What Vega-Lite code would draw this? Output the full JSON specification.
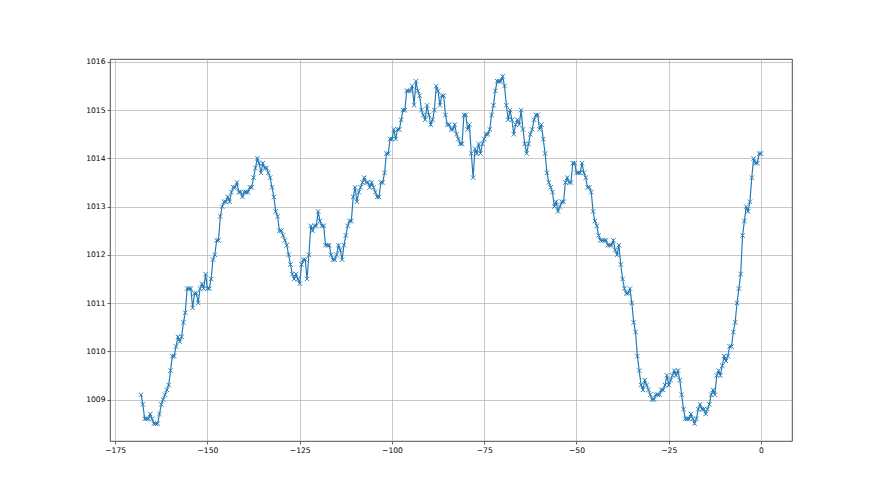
{
  "$schema": "https://vega.github.io/schema/vega-lite/v6.json",
  "width": 682,
  "height": 382,
  "autosize": {"type": "none"},
  "padding": {"left": 110, "top": 59, "right": 88, "bottom": 54},
  "background": "white",
  "config": {
    "view": {"stroke": "#222222", "strokeWidth": 0.8},
    "font": "DejaVu Sans",
    "axis": {
      "grid": true,
      "gridColor": "#b0b0b0",
      "gridWidth": 0.7,
      "domain": false,
      "tickColor": "#222222",
      "tickSize": 3,
      "tickWidth": 0.7,
      "labelFont": "DejaVu Sans",
      "labelFontSize": 7.6,
      "labelColor": "#000000",
      "labelPadding": 2,
      "title": null
    }
  },
  "data": {"values": [
    {"h":-168.0,"p":1009.1},{"h":-167.5,"p":1008.9},{"h":-167.0,"p":1008.6},{"h":-166.5,"p":1008.6},{"h":-166.0,"p":1008.6},{"h":-165.5,"p":1008.7},{"h":-165.0,"p":1008.6},{"h":-164.5,"p":1008.5},{"h":-164.0,"p":1008.5},{"h":-163.5,"p":1008.5},
    {"h":-163.0,"p":1008.7},{"h":-162.5,"p":1008.9},{"h":-162.0,"p":1009.0},{"h":-161.5,"p":1009.1},{"h":-161.0,"p":1009.2},{"h":-160.5,"p":1009.3},{"h":-160.0,"p":1009.6},{"h":-159.5,"p":1009.9},{"h":-159.0,"p":1009.9},{"h":-158.5,"p":1010.1},
    {"h":-158.0,"p":1010.3},{"h":-157.5,"p":1010.2},{"h":-157.0,"p":1010.3},{"h":-156.5,"p":1010.6},{"h":-156.0,"p":1010.8},{"h":-155.5,"p":1011.3},{"h":-155.0,"p":1011.3},{"h":-154.5,"p":1011.3},{"h":-154.0,"p":1010.9},{"h":-153.5,"p":1011.2},
    {"h":-153.0,"p":1011.2},{"h":-152.5,"p":1011.0},{"h":-152.0,"p":1011.3},{"h":-151.5,"p":1011.4},{"h":-151.0,"p":1011.3},{"h":-150.5,"p":1011.6},{"h":-150.0,"p":1011.3},{"h":-149.5,"p":1011.3},{"h":-149.0,"p":1011.5},{"h":-148.5,"p":1011.9},
    {"h":-148.0,"p":1012.0},{"h":-147.5,"p":1012.3},{"h":-147.0,"p":1012.3},{"h":-146.5,"p":1012.8},{"h":-146.0,"p":1013.0},{"h":-145.5,"p":1013.1},{"h":-145.0,"p":1013.1},{"h":-144.5,"p":1013.2},{"h":-144.0,"p":1013.1},{"h":-143.5,"p":1013.3},
    {"h":-143.0,"p":1013.4},{"h":-142.5,"p":1013.4},{"h":-142.0,"p":1013.5},{"h":-141.5,"p":1013.3},{"h":-141.0,"p":1013.3},{"h":-140.5,"p":1013.2},{"h":-140.0,"p":1013.3},{"h":-139.5,"p":1013.3},{"h":-139.0,"p":1013.3},{"h":-138.5,"p":1013.4},
    {"h":-138.0,"p":1013.4},{"h":-137.5,"p":1013.6},{"h":-137.0,"p":1013.8},{"h":-136.5,"p":1014.0},{"h":-136.0,"p":1013.9},{"h":-135.5,"p":1013.7},{"h":-135.0,"p":1013.9},{"h":-134.5,"p":1013.8},{"h":-134.0,"p":1013.8},{"h":-133.5,"p":1013.7},
    {"h":-133.0,"p":1013.6},{"h":-132.5,"p":1013.4},{"h":-132.0,"p":1013.2},{"h":-131.5,"p":1012.9},{"h":-131.0,"p":1012.8},{"h":-130.5,"p":1012.5},{"h":-130.0,"p":1012.5},{"h":-129.5,"p":1012.4},{"h":-129.0,"p":1012.3},{"h":-128.5,"p":1012.2},
    {"h":-128.0,"p":1012.0},{"h":-127.5,"p":1011.8},{"h":-127.0,"p":1011.6},{"h":-126.5,"p":1011.5},{"h":-126.0,"p":1011.6},{"h":-125.5,"p":1011.5},{"h":-125.0,"p":1011.4},{"h":-124.5,"p":1011.8},{"h":-124.0,"p":1011.9},{"h":-123.5,"p":1011.9},
    {"h":-123.0,"p":1011.5},{"h":-122.5,"p":1012.0},{"h":-122.0,"p":1012.6},{"h":-121.5,"p":1012.5},{"h":-121.0,"p":1012.6},{"h":-120.5,"p":1012.6},{"h":-120.0,"p":1012.9},{"h":-119.5,"p":1012.7},{"h":-119.0,"p":1012.6},{"h":-118.5,"p":1012.6},
    {"h":-118.0,"p":1012.2},{"h":-117.5,"p":1012.2},{"h":-117.0,"p":1012.2},{"h":-116.5,"p":1012.0},{"h":-116.0,"p":1011.9},{"h":-115.5,"p":1011.9},{"h":-115.0,"p":1012.0},{"h":-114.5,"p":1012.2},{"h":-114.0,"p":1012.1},{"h":-113.5,"p":1011.9},
    {"h":-113.0,"p":1012.2},{"h":-112.5,"p":1012.4},{"h":-112.0,"p":1012.6},{"h":-111.5,"p":1012.7},{"h":-111.0,"p":1012.7},{"h":-110.5,"p":1013.2},{"h":-110.0,"p":1013.4},{"h":-109.5,"p":1013.1},{"h":-109.0,"p":1013.3},{"h":-108.5,"p":1013.4},
    {"h":-108.0,"p":1013.5},{"h":-107.5,"p":1013.6},{"h":-107.0,"p":1013.5},{"h":-106.5,"p":1013.5},{"h":-106.0,"p":1013.4},{"h":-105.5,"p":1013.5},{"h":-105.0,"p":1013.4},{"h":-104.5,"p":1013.3},{"h":-104.0,"p":1013.2},{"h":-103.5,"p":1013.2},
    {"h":-103.0,"p":1013.5},{"h":-102.5,"p":1013.5},{"h":-102.0,"p":1013.7},{"h":-101.5,"p":1014.1},{"h":-101.0,"p":1014.1},{"h":-100.5,"p":1014.4},{"h":-100.0,"p":1014.4},{"h":-99.5,"p":1014.6},{"h":-99.0,"p":1014.4},{"h":-98.5,"p":1014.6},
    {"h":-98.0,"p":1014.6},{"h":-97.5,"p":1014.8},{"h":-97.0,"p":1015.0},{"h":-96.5,"p":1015.0},{"h":-96.0,"p":1015.4},{"h":-95.5,"p":1015.4},{"h":-95.0,"p":1015.4},{"h":-94.5,"p":1015.5},{"h":-94.0,"p":1015.1},{"h":-93.5,"p":1015.6},
    {"h":-93.0,"p":1015.4},{"h":-92.5,"p":1015.3},{"h":-92.0,"p":1015.0},{"h":-91.5,"p":1014.9},{"h":-91.0,"p":1014.8},{"h":-90.5,"p":1015.1},{"h":-90.0,"p":1014.9},{"h":-89.5,"p":1014.7},{"h":-89.0,"p":1014.8},{"h":-88.5,"p":1015.0},
    {"h":-88.0,"p":1015.5},{"h":-87.5,"p":1015.4},{"h":-87.0,"p":1015.1},{"h":-86.5,"p":1015.3},{"h":-86.0,"p":1015.3},{"h":-85.5,"p":1014.9},{"h":-85.0,"p":1014.7},{"h":-84.5,"p":1014.7},{"h":-84.0,"p":1014.6},{"h":-83.5,"p":1014.6},
    {"h":-83.0,"p":1014.7},{"h":-82.5,"p":1014.5},{"h":-82.0,"p":1014.4},{"h":-81.5,"p":1014.3},{"h":-81.0,"p":1014.3},{"h":-80.5,"p":1014.9},{"h":-80.0,"p":1014.9},{"h":-79.5,"p":1014.6},{"h":-79.0,"p":1014.7},{"h":-78.5,"p":1014.1},
    {"h":-78.0,"p":1013.6},{"h":-77.5,"p":1014.2},{"h":-77.0,"p":1014.1},{"h":-76.5,"p":1014.3},{"h":-76.0,"p":1014.1},{"h":-75.5,"p":1014.3},{"h":-75.0,"p":1014.4},{"h":-74.5,"p":1014.5},{"h":-74.0,"p":1014.5},{"h":-73.5,"p":1014.6},
    {"h":-73.0,"p":1014.9},{"h":-72.5,"p":1015.1},{"h":-72.0,"p":1015.4},{"h":-71.5,"p":1015.6},{"h":-71.0,"p":1015.6},{"h":-70.5,"p":1015.6},{"h":-70.0,"p":1015.7},{"h":-69.5,"p":1015.5},{"h":-69.0,"p":1015.1},{"h":-68.5,"p":1014.8},
    {"h":-68.0,"p":1015.0},{"h":-67.5,"p":1014.8},{"h":-67.0,"p":1014.5},{"h":-66.5,"p":1014.7},{"h":-66.0,"p":1014.8},{"h":-65.5,"p":1014.7},{"h":-65.0,"p":1015.0},{"h":-64.5,"p":1014.6},{"h":-64.0,"p":1014.3},{"h":-63.5,"p":1014.1},
    {"h":-63.0,"p":1014.3},{"h":-62.5,"p":1014.5},{"h":-62.0,"p":1014.6},{"h":-61.5,"p":1014.8},{"h":-61.0,"p":1014.9},{"h":-60.5,"p":1014.9},{"h":-60.0,"p":1014.6},{"h":-59.5,"p":1014.7},{"h":-59.0,"p":1014.4},{"h":-58.5,"p":1014.1},
    {"h":-58.0,"p":1013.7},{"h":-57.5,"p":1013.5},{"h":-57.0,"p":1013.4},{"h":-56.5,"p":1013.3},{"h":-56.0,"p":1013.0},{"h":-55.5,"p":1013.1},{"h":-55.0,"p":1012.9},{"h":-54.5,"p":1013.0},{"h":-54.0,"p":1013.1},{"h":-53.5,"p":1013.1},
    {"h":-53.0,"p":1013.5},{"h":-52.5,"p":1013.6},{"h":-52.0,"p":1013.5},{"h":-51.5,"p":1013.5},{"h":-51.0,"p":1013.9},{"h":-50.5,"p":1013.9},{"h":-50.0,"p":1013.7},{"h":-49.5,"p":1013.7},{"h":-49.0,"p":1013.7},{"h":-48.5,"p":1013.9},
    {"h":-48.0,"p":1013.7},{"h":-47.5,"p":1013.6},{"h":-47.0,"p":1013.4},{"h":-46.5,"p":1013.4},{"h":-46.0,"p":1013.3},{"h":-45.5,"p":1012.9},{"h":-45.0,"p":1012.7},{"h":-44.5,"p":1012.6},{"h":-44.0,"p":1012.4},{"h":-43.5,"p":1012.3},
    {"h":-43.0,"p":1012.3},{"h":-42.5,"p":1012.3},{"h":-42.0,"p":1012.3},{"h":-41.5,"p":1012.2},{"h":-41.0,"p":1012.2},{"h":-40.5,"p":1012.2},{"h":-40.0,"p":1012.3},{"h":-39.5,"p":1012.1},{"h":-39.0,"p":1012.0},{"h":-38.5,"p":1012.2},
    {"h":-38.0,"p":1011.8},{"h":-37.5,"p":1011.5},{"h":-37.0,"p":1011.3},{"h":-36.5,"p":1011.2},{"h":-36.0,"p":1011.2},{"h":-35.5,"p":1011.3},{"h":-35.0,"p":1011.0},{"h":-34.5,"p":1010.6},{"h":-34.0,"p":1010.4},{"h":-33.5,"p":1009.9},
    {"h":-33.0,"p":1009.6},{"h":-32.5,"p":1009.3},{"h":-32.0,"p":1009.2},{"h":-31.5,"p":1009.4},{"h":-31.0,"p":1009.3},{"h":-30.5,"p":1009.2},{"h":-30.0,"p":1009.1},{"h":-29.5,"p":1009.0},{"h":-29.0,"p":1009.0},{"h":-28.5,"p":1009.1},
    {"h":-28.0,"p":1009.1},{"h":-27.5,"p":1009.1},{"h":-27.0,"p":1009.2},{"h":-26.5,"p":1009.2},{"h":-26.0,"p":1009.3},{"h":-25.5,"p":1009.5},{"h":-25.0,"p":1009.3},{"h":-24.5,"p":1009.4},{"h":-24.0,"p":1009.5},{"h":-23.5,"p":1009.6},
    {"h":-23.0,"p":1009.5},{"h":-22.5,"p":1009.6},{"h":-22.0,"p":1009.4},{"h":-21.5,"p":1009.1},{"h":-21.0,"p":1008.8},{"h":-20.5,"p":1008.6},{"h":-20.0,"p":1008.6},{"h":-19.5,"p":1008.6},{"h":-19.0,"p":1008.7},{"h":-18.5,"p":1008.6},
    {"h":-18.0,"p":1008.5},{"h":-17.5,"p":1008.6},{"h":-17.0,"p":1008.8},{"h":-16.5,"p":1008.9},{"h":-16.0,"p":1008.8},{"h":-15.5,"p":1008.8},{"h":-15.0,"p":1008.7},{"h":-14.5,"p":1008.8},{"h":-14.0,"p":1008.9},{"h":-13.5,"p":1009.1},
    {"h":-13.0,"p":1009.2},{"h":-12.5,"p":1009.1},{"h":-12.0,"p":1009.5},{"h":-11.5,"p":1009.6},{"h":-11.0,"p":1009.5},{"h":-10.5,"p":1009.7},{"h":-10.0,"p":1009.9},{"h":-9.5,"p":1009.8},{"h":-9.0,"p":1009.9},{"h":-8.5,"p":1010.1},
    {"h":-8.0,"p":1010.1},{"h":-7.5,"p":1010.4},{"h":-7.0,"p":1010.6},{"h":-6.5,"p":1011.0},{"h":-6.0,"p":1011.3},{"h":-5.5,"p":1011.6},{"h":-5.0,"p":1012.4},{"h":-4.5,"p":1012.7},{"h":-4.0,"p":1013.0},{"h":-3.5,"p":1012.9},
    {"h":-3.0,"p":1013.1},{"h":-2.5,"p":1013.6},{"h":-2.0,"p":1014.0},{"h":-1.5,"p":1013.9},{"h":-1.0,"p":1013.9},{"h":-0.5,"p":1014.1},{"h":0.0,"p":1014.1}
  ]},
  "encoding": {
    "x": {
      "field": "h", "type": "quantitative",
      "scale": {"domain": [-176.4, 8.4], "nice": false, "zero": false},
      "axis": {"values": [-175, -150, -125, -100, -75, -50, -25, 0], "format": "d"}
    },
    "y": {
      "field": "p", "type": "quantitative",
      "scale": {"domain": [1008.14, 1016.06], "nice": false, "zero": false},
      "axis": {"values": [1009, 1010, 1011, 1012, 1013, 1014, 1015, 1016], "format": "d"}
    }
  },
  "layer": [
    {"mark": {"type": "line", "color": "#1f77b4", "strokeWidth": 1.15, "clip": true}},
    {"mark": {"type": "point", "shape": "M-1,-1L1,1M-1,1L1,-1", "filled": false, "stroke": "#1f77b4", "strokeWidth": 0.9, "size": 20, "opacity": 1, "clip": true}}
  ]
}
